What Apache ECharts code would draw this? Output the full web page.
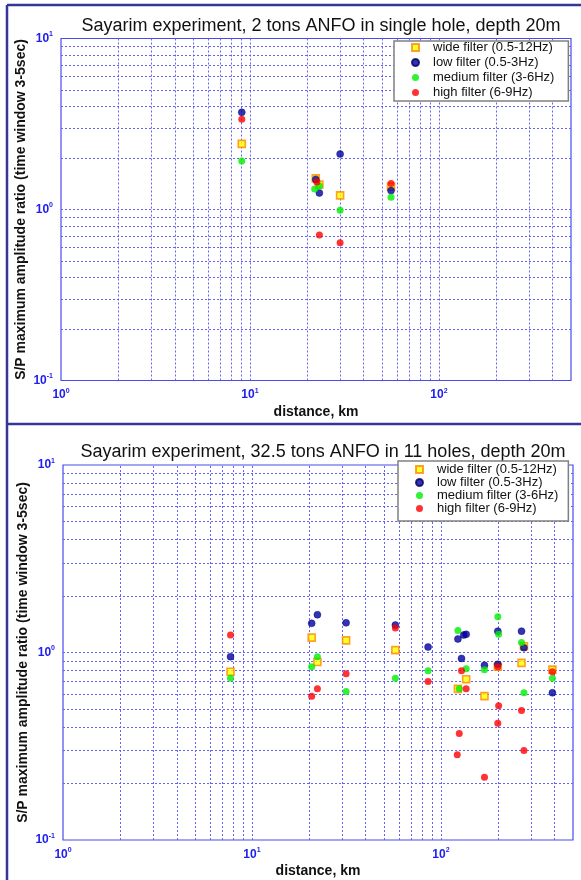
<!DOCTYPE html>
<html>
<head>
<meta charset="utf-8">
<script src="https://cdn.jsdelivr.net/npm/echarts@6/dist/echarts.min.js"></script>
<style>
html,body{margin:0;padding:0;background:#fff;}
#chart{width:581px;height:880px;}
</style>
</head>
<body>
<div id="chart"></div>
<script>
// ---- data ----
const seriesNames = ['wide filter (0.5-12Hz)', 'low filter (0.5-3Hz)', 'medium filter (3-6Hz)', 'high filter (6-9Hz)'];
const titles = ['Sayarim experiment, 2 tons ANFO in single hole, depth 20m', 'Sayarim experiment, 32.5 tons ANFO in 11 holes, depth 20m'];
const xAxisName = 'distance, km';
const yAxisName = 'S/P maximum amplitude ratio (time window 3-5sec)';
const xRange = [1, 500];
const yRange = [0.1, 10];
const xGridValues = [2, 3, 4, 5, 6, 7, 8, 9, 10, 20, 30, 40, 50, 60, 70, 80, 90, 100, 200, 300, 400];
const yGridValues = [0.2, 0.3, 0.4, 0.5, 0.6, 0.7, 0.8, 0.9, 1, 2, 3, 4, 5, 6, 7, 8, 9];

// top panel: 2 tons, single hole
const topWide   = [[9.05, 2.42], [22.3, 1.52], [23.3, 1.40], [30, 1.21], [55.8, 1.36]];
const topLow    = [[9.05, 3.70], [22.3, 1.50], [23.3, 1.25], [30, 2.11], [55.8, 1.29]];
const topMedium = [[9.05, 1.92], [22.0, 1.32], [23.3, 1.37], [30, 0.99], [55.8, 1.18]];
const topHigh   = [[9.05, 3.37], [22.6, 1.45], [23.3, 0.71], [30, 0.64], [55.8, 1.42]];

// bottom panel: 32.5 tons, 11 holes
const botWide   = [[7.7, 0.79], [20.7, 1.20], [22.2, 0.89], [31.5, 1.16], [57.4, 1.03], [123, 0.64], [136, 0.72], [170, 0.585], [200, 0.84], [267, 0.88], [275, 1.08], [389, 0.81]];
const botLow    = [[7.7, 0.95], [20.7, 1.43], [22.2, 1.59], [31.5, 1.44], [57.4, 1.40], [85.5, 1.07], [123, 1.18], [132, 1.24], [136, 1.25], [128.5, 0.93], [170, 0.855], [200, 1.30], [200, 0.865], [267, 1.30], [275, 1.06], [389, 0.61]];
const botMedium = [[7.7, 0.73], [20.7, 0.84], [22.2, 0.95], [31.5, 0.62], [57.4, 0.73], [85.5, 0.80], [123, 1.31], [136, 0.82], [125, 0.64], [170, 0.81], [200, 1.55], [202, 1.25], [267, 1.13], [275, 0.61], [389, 0.73]];
const botHigh   = [[7.7, 1.24], [20.7, 0.585], [22.2, 0.64], [31.5, 0.77], [57.4, 1.35], [85.5, 0.70], [128.5, 0.80], [136, 0.64], [125, 0.37], [122, 0.285], [170, 0.216], [200, 0.84], [202, 0.52], [200, 0.42], [267, 0.49], [275, 0.30], [389, 0.79]];

const panels = [
  { wide: topWide, low: topLow, medium: topMedium, high: topHigh },
  { wide: botWide, low: botLow, medium: botMedium, high: botHigh }
];

// ---- styles ----
const FONT = "'Liberation Sans', Arial, sans-serif";
const tickBlue = '#2020f0';
const frameBlue = '#4a4af0';
const gridBlue = '#6464f0';
const markerStyles = [
  { symbol: 'rect', symbolSize: 7, itemStyle: { color: '#ffff00', borderColor: '#ff8a00', borderWidth: 1.6 } },
  { symbol: 'circle', symbolSize: 7, itemStyle: { color: '#0000a8', borderColor: '#000060', borderWidth: 0.5 } },
  { symbol: 'circle', symbolSize: 7, itemStyle: { color: '#00ee00' } },
  { symbol: 'circle', symbolSize: 7, itemStyle: { color: '#ff0000' } }
];

const gridsPos = [
  { left: 61, width: 510, top: 38.5, height: 342 },
  { left: 63, width: 510, top: 465, height: 375 }
];

function powLabel(v) {
  const e = Math.round(Math.log10(v));
  return '{b|10}{s|' + e + '}';
}
const labelRich = {
  b: { fontSize: 12, fontWeight: 'bold', color: tickBlue, fontFamily: FONT },
  s: { fontSize: 7, fontWeight: 'bold', color: tickBlue, fontFamily: FONT, padding: [0, 0, 8, 0] }
};

const option = {
  backgroundColor: '#ffffff',
  animation: false,
  title: titles.map((t, i) => ({
    text: t,
    left: gridsPos[i].left + gridsPos[i].width / 2,
    textAlign: 'center',
    top: i === 0 ? 12 : 438,
    textStyle: { fontFamily: FONT, fontSize: 18, fontWeight: 'normal', color: '#111' }
  })),
  legend: [0, 1].map(i => ({
    data: seriesNames,
    orient: 'vertical',
    left: i === 0 ? 394 : 398,
    top: i === 0 ? 41 : 461,
    padding: i === 0 ? [0, 14, 2, 17] : [2, 10, 6, 17],
    itemWidth: 7,
    itemHeight: 7,
    itemGap: i === 0 ? 2 : 0,
    z: 50,
    backgroundColor: '#ffffff',
    borderColor: '#808080',
    borderWidth: 1.5,
    borderRadius: 0,
    selectedMode: false,
    textStyle: { fontFamily: FONT, fontSize: 13, color: '#111', lineHeight: 13, padding: [0, 0, 0, 9] }
  })),
  grid: gridsPos.map(g => Object.assign({ show: true, borderColor: frameBlue, borderWidth: 1.2, backgroundColor: '#fff' }, g)),
  xAxis: [0, 1].map(i => ({
    type: 'log', logBase: 10, gridIndex: i, min: xRange[0], max: xRange[1],
    name: xAxisName, nameLocation: 'middle', nameGap: 24.5, nameMoveOverlap: false,
    nameTextStyle: { fontFamily: FONT, fontSize: 14, fontWeight: 'bold', color: '#111' },
    axisLine: { show: false }, axisTick: { show: false }, splitLine: { show: false },
    axisLabel: { formatter: powLabel, rich: labelRich, margin: 7, showMaxLabel: false }
  })),
  yAxis: [0, 1].map(i => ({
    type: 'log', logBase: 10, gridIndex: i, min: yRange[0], max: yRange[1],
    name: yAxisName, nameLocation: 'middle', nameGap: 33, nameRotate: 90, nameMoveOverlap: false,
    nameTextStyle: { fontFamily: FONT, fontSize: 14, fontWeight: 'bold', color: '#111' },
    axisLine: { show: false }, axisTick: { show: false }, splitLine: { show: false },
    axisLabel: { formatter: powLabel, rich: labelRich, margin: 8 }
  })),
  graphic: [
    { type: 'line', shape: { x1: 7, y1: 5, x2: 581, y2: 5 }, style: { stroke: '#35359a', lineWidth: 2.5 } },
    { type: 'line', shape: { x1: 7, y1: 5, x2: 7, y2: 880 }, style: { stroke: '#35359a', lineWidth: 2.5 } },
    { type: 'line', shape: { x1: 7, y1: 424, x2: 581, y2: 424 }, style: { stroke: '#35359a', lineWidth: 2.5 } }
  ],
  series: []
};

[0, 1].forEach(i => {
  // dotted grid lines through the axes' own log scales
  option.series.push({
    type: 'scatter', xAxisIndex: i, yAxisIndex: i, data: [], silent: true, z: 1,
    markLine: {
      silent: true, symbol: 'none', animation: false, z: 1,
      label: { show: false },
      lineStyle: { color: gridBlue, type: [2, 2], width: 1 },
      data: xGridValues.map(v => ({ xAxis: v })).concat(yGridValues.map(v => ({ yAxis: v })))
    }
  });
  const p = panels[i];
  [p.wide, p.low, p.medium, p.high].forEach((d, k) => {
    option.series.push(Object.assign({
      name: seriesNames[k], type: 'scatter', xAxisIndex: i, yAxisIndex: i, data: d, z: 3 + k
    }, markerStyles[k]));
  });
});

const chart = echarts.init(document.getElementById('chart'), null, { renderer: 'canvas' });
chart.setOption(option);
</script>
</body>
</html>
